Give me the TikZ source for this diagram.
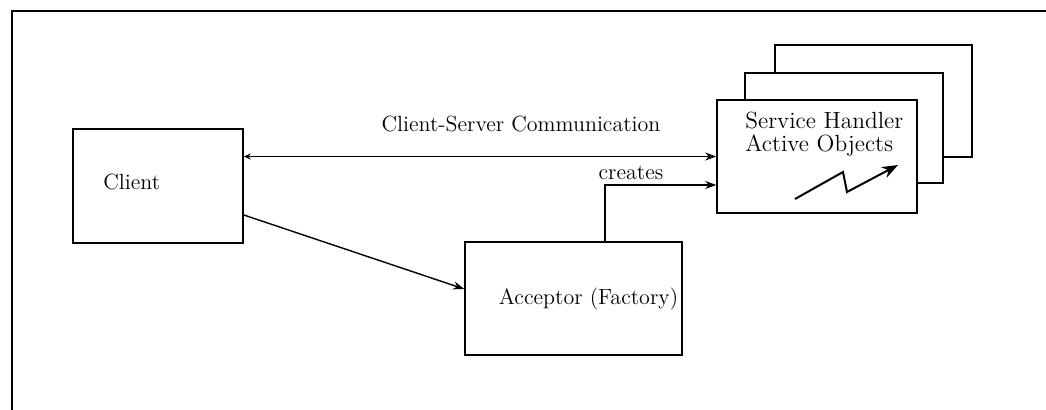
\documentclass[tikz,border=0pt]{standalone}
\usetikzlibrary{arrows.meta,calc}
\begin{document}
\begin{tikzpicture}[x=0.5pt,y=-0.5pt,
  box/.style={draw=black,line width=0.8pt,fill=white,inner sep=0pt},
  lbl/.style={font=\fontsize{11}{13}\selectfont,inner sep=0pt},
  conn/.style={line width=0.7pt},
  tip/.style={-{Stealth[length=5.5pt,width=4pt]}}]
  \useasboundingbox (0,0) rectangle (1046,410);
  % outer frame (top and left edges only)
  \draw[line width=1.1pt] (12,410) -- (12,11) -- (1046,11);

  % stacked service handler boxes
  \node[box,minimum width=98.5pt,minimum height=56pt] (back) at (873.5,101) {};
  \node[box,minimum width=99pt,minimum height=55pt] (middle) at (844,128) {};
  \node[box,minimum width=100pt,minimum height=56.5pt] (front) at (817,156.5) {};

  % client and acceptor boxes
  \node[box,minimum width=85pt,minimum height=57pt] (client) at (158,186) {};
  \node[box,minimum width=108.5pt,minimum height=56.5pt] (acceptor) at (573.5,298.5) {};

  % labels
  \node[lbl,anchor=west] (clienttxt) at (103,182) {Client};
  \node[lbl] (acctxt) at (588.5,299) {Acceptor (Factory)};
  \node[lbl,anchor=west,align=left,font=\fontsize{11.7}{11.4}\selectfont] (shtxt) at (745,134) {Service Handler\\Active Objects};
  \node[lbl] (comm) at (521,124) {Client-Server Communication};
  \node[lbl] (creates) at (631,173) {creates};

  % connectors
  \draw[conn,{Stealth[length=3.5pt,width=3pt]}-{Stealth[length=5.5pt,width=4pt]}]
    (client.east |- front.west) -- (front.west);
  \draw[conn,tip] ($(acceptor.north)+(31.5,0)$) |- ($(front.west)+(0,28.5)$);
  \draw[conn,tip] ($(client.east)+(0,29)$) -- ($(acceptor.west)+(0,-9.5)$);

  % activity zigzag inside the front handler
  \draw[line width=1pt,-{Stealth[length=8pt,width=6pt]}]
    (795,199) -- (843,172) -- (847,192) -- (898,165);
\end{tikzpicture}
\end{document}
